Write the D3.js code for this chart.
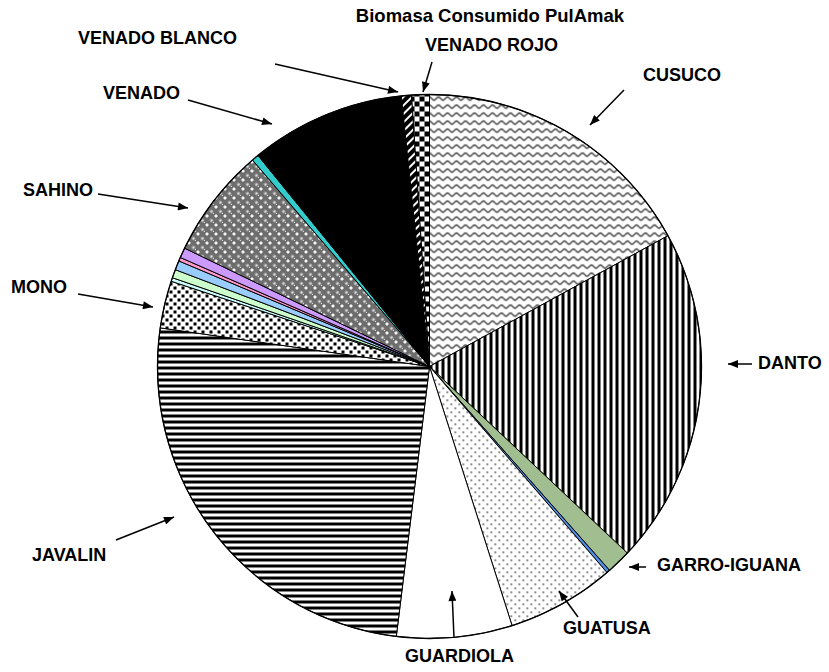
<!DOCTYPE html>
<html>
<head>
<meta charset="utf-8">
<script src="https://cdn.jsdelivr.net/npm/d3@7"></script>
<style>
  html, body { margin: 0; padding: 0; background: #fff; }
  svg { display: block; }
  text { font-family: "Liberation Sans", Arial, sans-serif; font-weight: bold; fill: #000; }
</style>
</head>
<body>
<svg id="chart" width="829" height="672"></svg>
<script>
// Biomass consumed per species (percent of total), clockwise from 12 o'clock.
const categories = ["CUSUCO", "DANTO", "GARRO-IGUANA", "", "GUATUSA", "GUARDIOLA", "JAVALIN", "MONO",
                    "", "", "", "", "", "SAHINO", "", "VENADO", "VENADO BLANCO", "VENADO ROJO"];
const biomasa = [17.0, 20.0, 1.45, 0.2, 6.4, 6.85, 25.3, 2.8,
                 0.22, 0.5, 0.55, 0.22, 0.6, 6.55, 0.42, 9.2, 0.6, 1.05];
const title = "Biomasa Consumido PulAmak";

// Fill for each slice, in the same order as the categories.
const sliceFills = ["url(#p-wave)", "url(#p-vstripe)", "#a0be90", "#4f8fe6", "url(#p-dots)", "#ffffff",
                    "url(#p-hstripe)", "url(#p-squares)", "#ccffff", "#ccffcc", "#99ccff", "#ff99cc",
                    "#cc99ff", "url(#p-sahino)", "#33cccc", "#000000", "url(#p-diag)", "url(#p-checker)"];

// Callout placement: label baseline start and leader arrow (tail -> tip).
const callouts = {
  "VENADO BLANCO": { x: 78,  y: 44,  tail: [275, 64],  tip: [398, 92] },
  "VENADO ROJO":   { x: 425, y: 51,  tail: [432, 62],  tip: [423, 92] },
  "CUSUCO":        { x: 643, y: 81,  tail: [624, 90],  tip: [590, 125] },
  "VENADO":        { x: 103, y: 99,  tail: [188, 100], tip: [272, 124] },
  "SAHINO":        { x: 23,  y: 196, tail: [98, 194],  tip: [188, 208] },
  "MONO":          { x: 11,  y: 293, tail: [78, 294],  tip: [153, 307] },
  "DANTO":         { x: 758, y: 369, tail: [752, 364], tip: [728, 364] },
  "JAVALIN":       { x: 32,  y: 561, tail: [116, 540], tip: [174, 517] },
  "GARRO-IGUANA":  { x: 657, y: 571, tail: [646, 567], tip: [629, 567] },
  "GUATUSA":       { x: 563, y: 634, tail: [578, 617], tip: [559, 591] },
  "GUARDIOLA":     { x: 405, y: 662, tail: [454, 638], tip: [452, 591] }
};

const svg = d3.select("#chart");
const cx = 429.5, cy = 366.5, radius = 272;

// ---- fill patterns ----
const defs = svg.append("defs");

// wavy grey lines
const wave = defs.append("pattern").attr("id", "p-wave").attr("patternUnits", "userSpaceOnUse")
  .attr("width", 9).attr("height", 8);
wave.append("rect").attr("width", 9).attr("height", 8).attr("fill", "#fff");
wave.append("path").attr("d", "M0,2.5 C1.6,2.5 2.9,5.8 4.5,5.8 C6.1,5.8 7.4,2.5 9,2.5")
  .attr("fill", "none").attr("stroke", "#333").attr("stroke-width", 1.4);

// vertical stripes
const vs = defs.append("pattern").attr("id", "p-vstripe").attr("patternUnits", "userSpaceOnUse")
  .attr("width", 6).attr("height", 6);
vs.append("rect").attr("width", 6).attr("height", 6).attr("fill", "#fff");
vs.append("rect").attr("width", 3).attr("height", 6).attr("fill", "#000");

// horizontal stripes
const hs = defs.append("pattern").attr("id", "p-hstripe").attr("patternUnits", "userSpaceOnUse")
  .attr("width", 6).attr("height", 6);
hs.append("rect").attr("width", 6).attr("height", 6).attr("fill", "#fff");
hs.append("rect").attr("width", 6).attr("height", 3).attr("fill", "#000");

// sparse dots
const dots = defs.append("pattern").attr("id", "p-dots").attr("patternUnits", "userSpaceOnUse")
  .attr("width", 8).attr("height", 8);
dots.append("rect").attr("width", 8).attr("height", 8).attr("fill", "#fff");
dots.append("rect").attr("x", 1).attr("y", 1).attr("width", 1.5).attr("height", 1.5).attr("fill", "#333");
dots.append("rect").attr("x", 5).attr("y", 5).attr("width", 1.5).attr("height", 1.5).attr("fill", "#333");

// staggered black squares
const sq = defs.append("pattern").attr("id", "p-squares").attr("patternUnits", "userSpaceOnUse")
  .attr("width", 8).attr("height", 8);
sq.append("rect").attr("width", 8).attr("height", 8).attr("fill", "#fff");
sq.append("rect").attr("x", 0).attr("y", 0).attr("width", 3).attr("height", 3).attr("fill", "#000");
sq.append("rect").attr("x", 4).attr("y", 4).attr("width", 3).attr("height", 3).attr("fill", "#000");

// fine 1px checker used under the white dots
const fine = defs.append("pattern").attr("id", "p-fine").attr("patternUnits", "userSpaceOnUse")
  .attr("width", 2).attr("height", 2);
fine.append("rect").attr("width", 2).attr("height", 2).attr("fill", "#000");
fine.append("rect").attr("width", 1).attr("height", 1).attr("fill", "#fff");
fine.append("rect").attr("x", 1).attr("y", 1).attr("width", 1).attr("height", 1).attr("fill", "#fff");

const sah = defs.append("pattern").attr("id", "p-sahino").attr("patternUnits", "userSpaceOnUse")
  .attr("width", 9).attr("height", 9);
sah.append("rect").attr("width", 9).attr("height", 9).attr("fill", "url(#p-fine)");
sah.append("rect").attr("width", 9).attr("height", 9).attr("fill", "#000").attr("opacity", 0.15);
[[2, 2], [6.5, 6.5]].forEach(([x, y]) => {
  sah.append("rect").attr("x", x - 1).attr("y", y).attr("width", 3).attr("height", 1).attr("fill", "#fff");
  sah.append("rect").attr("x", x).attr("y", y - 1).attr("width", 1).attr("height", 3).attr("fill", "#fff");
});

// black with white upward diagonals
const dg = defs.append("pattern").attr("id", "p-diag").attr("patternUnits", "userSpaceOnUse")
  .attr("width", 6).attr("height", 6).attr("patternTransform", "rotate(45)");
dg.append("rect").attr("width", 6).attr("height", 6).attr("fill", "#000");
dg.append("rect").attr("width", 2).attr("height", 6).attr("fill", "#fff");

// large checkerboard
const ck = defs.append("pattern").attr("id", "p-checker").attr("patternUnits", "userSpaceOnUse")
  .attr("width", 10).attr("height", 10);
ck.append("rect").attr("width", 10).attr("height", 10).attr("fill", "#fff");
ck.append("rect").attr("width", 5).attr("height", 5).attr("fill", "#000");
ck.append("rect").attr("x", 5).attr("y", 5).attr("width", 5).attr("height", 5).attr("fill", "#000");

// arrow head
defs.append("marker").attr("id", "arrow").attr("viewBox", "0 0 10 8")
  .attr("refX", 10).attr("refY", 4).attr("markerWidth", 11).attr("markerHeight", 8)
  .attr("markerUnits", "userSpaceOnUse").attr("orient", "auto")
  .append("path").attr("d", "M0,0 L10,4 L0,8 Z").attr("fill", "#000");

// ---- pie ----
const slices = categories.map((name, i) => ({ name, value: biomasa[i], fill: sliceFills[i] }));
const pie = d3.pie().value(d => d.value).sort(null).startAngle(0).endAngle(2 * Math.PI);
const arc = d3.arc().innerRadius(0).outerRadius(radius);

const g = svg.append("g").attr("transform", `translate(${cx},${cy})`);
g.selectAll("path.slice").data(pie(slices)).join("path")
  .attr("class", "slice")
  .attr("d", arc)
  .attr("fill", d => d.data.fill)
  .attr("stroke", "#000")
  .attr("stroke-width", 1)
  .attr("stroke-linejoin", "round");

g.append("circle").attr("r", radius).attr("fill", "none").attr("stroke", "#000").attr("stroke-width", 1.3);

// ---- title ----
svg.append("text").attr("x", 490).attr("y", 22).attr("text-anchor", "middle")
  .style("font-size", "18.5px").text(title);

// ---- callouts ----
const labelled = categories.filter(c => c && callouts[c]);
const cg = svg.append("g");
cg.selectAll("line").data(labelled).join("line")
  .attr("x1", d => callouts[d].tail[0]).attr("y1", d => callouts[d].tail[1])
  .attr("x2", d => callouts[d].tip[0]).attr("y2", d => callouts[d].tip[1])
  .attr("stroke", "#000").attr("stroke-width", 1.5)
  .attr("marker-end", "url(#arrow)");
cg.selectAll("text").data(labelled).join("text")
  .attr("x", d => callouts[d].x).attr("y", d => callouts[d].y)
  .style("font-size", "18px")
  .text(d => d);
</script>
</body>
</html>
